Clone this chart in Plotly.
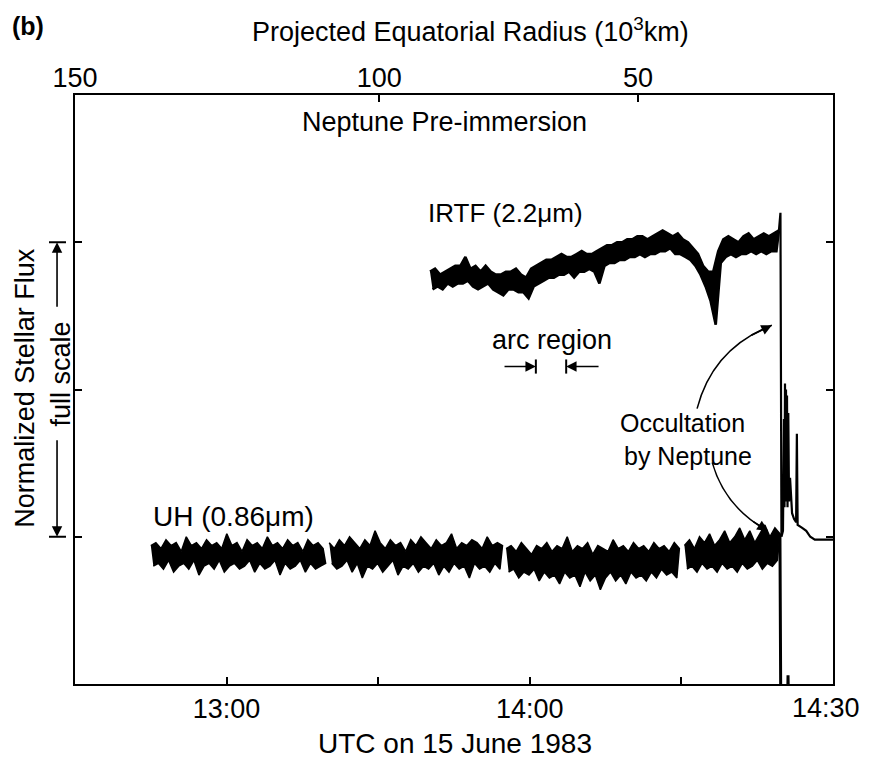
import numpy as np
import plotly.graph_objects as go

# ---------------- data (time = minutes after 12:00 UTC, 15 June 1983) ----------------
T_RANGE = [30, 180]
Y_RANGE = [-0.5, 1.5]
TIME_TICKS = [60, 120]
TIME_TICK_TEXT = ["13:00", "14:00"]
TIME_MINOR_TICKS = [90, 150]
LAST_TIME_LABEL = "14:30"
RADIUS_TICK_TIMES = [30, 90.2, 141.4]
RADIUS_TICK_TEXT = ["150", "100", "50"]
FLUX_TICKS = [0, 0.5, 1.0]

# UH (0.86 um) record, hundredths of full scale (alternating crest / trough samples)
UH_SEG_BOUNDS = [(45.0, 79.6), (80.3, 114.6), (115.3, 149.6), (150.6, 169.5)]
UH_SEG1 = [-3, -10, -2, -9, -4, -11, -1, -8, -3, -12,
           -2, -10, -5, -9, 0, -11, -3, -8, -2, -13,
           -4, -10, -1, -9, -3, -11, -2, -8, -4, -12,
           1, -10, -3, -9, -2, -11, -5, -10, -1, -8,
           -3, -12, -2, -9, -4, -11, 0, -10, -3, -8,
           -2, -13, -4, -9, -1, -11, -3, -10, -2, -8,
           -5, -12, -1, -9, -3, -11, -2, -10, -4, -9]
UH_SEG2 = [-2, -9, -4, -11, -1, -10, -3, -8, 0, -12,
           -2, -9, -4, -14, -1, -10, -3, -11, 2, -9,
           -2, -12, -4, -10, -1, -8, -3, -13, -2, -10,
           -5, -11, -1, -9, -3, -12, 0, -10, -2, -11,
           -4, -9, -1, -13, -3, -10, -2, -12, 1, -9,
           -4, -11, -2, -10, -3, -14, -1, -9, -2, -11,
           -4, -10, 0, -12, -3, -9, -2, -11, -3]
UH_SEG3 = [-4, -12, -3, -11, -5, -14, -2, -12, -4, -13,
           -6, -11, -3, -15, -4, -12, -2, -14, -5, -13,
           -3, -16, -4, -12, 0, -14, -5, -13, -3, -17,
           -4, -12, -2, -15, -6, -13, -3, -18, -4, -14,
           -5, -12, -1, -15, -4, -13, -3, -16, -5, -12,
           -2, -14, -4, -13, -3, -15, -5, -12, -2, -14,
           -4, -11, -3, -13, -5, -12, -2, -14, -4]
UH_SEG4 = [-3, -11, -1, -10, -4, -12, 0, -9, -2, -11,
           1, -10, -3, -12, -1, -9, 2, -11, -2, -10,
           0, -12, 3, -9, -1, -11, 2, -10, -2, -8,
           1, -11, 4, -9, 0, -10, 3, -8, 1]
UH_LOSS_T = [169.5, 169.7, 170.9, 171.1, 171.3]
UH_LOSS_V = [1, -70, -70, -47, -70]

# IRTF (2.2 um) record, hundredths of full scale (alternating crest / trough samples)
IRTF_BOUNDS = (100.25, 169.3)
IRTF_VALS = [90, 84, 91, 85, 89, 84, 90, 86, 91, 85, 92, 86, 92, 86, 95, 87,
             91, 85, 92, 84, 90, 85, 92, 86, 90, 84, 89, 83, 89, 82, 90, 84,
             90, 84, 91, 83, 89, 83, 88, 81, 91, 85, 92, 86, 93, 87, 94, 88,
             94, 88, 95, 89, 96, 89, 95, 90, 95, 88, 96, 90, 97, 90, 96, 91,
             96, 90, 97, 86, 98, 92, 99, 93, 99, 93, 100, 94, 100, 94, 101, 95,
             101, 95, 102, 96, 102, 95, 101, 96, 102, 96, 103, 97, 104, 97, 103, 98,
             102, 96, 103, 96, 101, 95, 100, 94, 98, 92, 96, 89, 92, 85, 90, 80,
             90, 72, 97, 93, 101, 95, 102, 96, 101, 95, 100, 96, 102, 96, 103, 97,
             101, 96, 102, 97, 103, 96, 102, 97, 103, 97, 104]
IRTF_POST_T = [169.3, 169.6, 169.8, 170.1, 170.3, 170.4, 170.5, 170.6, 170.7,
               170.8, 170.9, 171.0, 171.15, 171.3, 171.5, 171.9, 172.3, 172.7,
               172.85, 173.0, 173.9, 174.7, 175.5, 176.4, 177.4, 178.5, 180.0]
IRTF_POST_V = [104, 110, 0, 2, 40, 10, 52, 14, 50, 12, 48, 10, 42, 12, 20, 8, 6, 5,
               35, 4, 3, 2, 0, -1, -1, -1, -1]

# annotation anchors (data units)
ARC_EDGES = [121.2, 127.2]
ARC_TAILS = [114.7, 133.9]
ARC_Y = 0.578
OCC_UP = [(153.1, 0.435), (156.2, 0.64), (167.9, 0.718)]     # start, control, tip
OCC_DOWN = [(156.1, 0.252), (158.6, 0.10), (167.1, 0.020)]

FONT = "Liberation Sans, Arial, sans-serif"
BLACK = "black"
PAGE_PAD = 8  # default body margin of the written page

fig = go.Figure()


def add_line(x, y, width=2.2, axis="x"):
    fig.add_trace(go.Scatter(x=x, y=y, mode="lines", xaxis=axis,
                             line=dict(color=BLACK, width=width),
                             hoverinfo="skip", showlegend=False))


def add_band(t0, t1, vals, edge=1.5):
    """Noisy record: fill between crest samples and trough samples."""
    t = np.linspace(t0, t1, len(vals))
    v = np.array(vals) / 100.0
    xs = np.concatenate([t[0::2], t[1::2][::-1]])
    ys = np.concatenate([v[0::2], v[1::2][::-1]])
    fig.add_trace(go.Scatter(x=xs, y=ys, mode="lines", fill="toself",
                             fillcolor=BLACK, line=dict(color=BLACK, width=edge),
                             hoverinfo="skip", showlegend=False))


for (t0, t1), seg in zip(UH_SEG_BOUNDS, [UH_SEG1, UH_SEG2, UH_SEG3, UH_SEG4]):
    add_band(t0, t1, seg, edge=1.5)
add_line(UH_LOSS_T, np.array(UH_LOSS_V) / 100.0, width=3)

add_band(IRTF_BOUNDS[0], IRTF_BOUNDS[1], IRTF_VALS, edge=2.6)
add_line(IRTF_POST_T, np.array(IRTF_POST_V) / 100.0, width=2.2)

# carrier trace for the top (radius) axis
add_line(T_RANGE, [None, None], axis="x2")

ann = []
shapes = []


def text(t, x, y, size=27, xref="x", yref="y", xanchor="center", yanchor="middle",
         angle=0):
    ann.append(dict(text=t, x=x, y=y, xref=xref, yref=yref, showarrow=False,
                    xanchor=xanchor, yanchor=yanchor, textangle=angle,
                    font=dict(family=FONT, size=size, color=BLACK)))


text("<b>(b)</b>", -0.062, 1.117, size=25, xref="paper", yref="paper")
text("Projected Equatorial Radius (10<sup>3</sup>km)", 0.522, 1.111, size=27,
     xref="paper", yref="paper")
text("UTC on 15 June 1983", 0.501, -0.101, size=28, xref="paper", yref="paper")
text(LAST_TIME_LABEL, 178.6, -0.0407, size=27, yref="paper")
text("Normalized Stellar Flux", -0.0655, 0.507, size=27, xref="paper", angle=-90)
text("full scale", -0.0185, 0.554, size=27, xref="paper", angle=-90)
text("Neptune Pre-immersion", 103.2, 1.408)
text("IRTF (2.2\u03bcm)", 99.4, 1.10, size=26, xanchor="left")
text("UH (0.86\u03bcm)", 45.0, 0.068, size=28, xanchor="left")
text("arc region", 124.4, 0.667)
text("Occultation", 150.3, 0.333, size=25, yanchor="bottom")
text("by Neptune", 151.3, 0.327, size=25, yanchor="top")

# full-scale double arrow
for y, ay in [(1.0, 66), (0.0, -98)]:
    ann.append(dict(x=-0.0237, y=y, xref="paper", yref="y", ax=0, ay=ay,
                    text="", showarrow=True, arrowhead=2, arrowsize=1.3,
                    arrowwidth=1.6, arrowcolor=BLACK))
    shapes.append(dict(type="line", xref="paper", yref="y", x0=-0.0343, x1=-0.0119,
                       y0=y, y1=y, line=dict(color=BLACK, width=2)))

# arc region markers
for edge, tail in zip(ARC_EDGES, ARC_TAILS):
    ann.append(dict(x=edge, y=ARC_Y, xref="x", yref="y", ax=tail, ay=ARC_Y,
                    axref="x", ayref="y", text="", showarrow=True, arrowhead=2,
                    arrowsize=1.3, arrowwidth=1.6, arrowcolor=BLACK))
    shapes.append(dict(type="line", xref="x", yref="y", x0=edge, x1=edge,
                       y0=ARC_Y - 0.024, y1=ARC_Y + 0.024,
                       line=dict(color=BLACK, width=2)))

# curved occultation arrows
for (p0, c, p2) in [OCC_UP, OCC_DOWN]:
    shapes.append(dict(type="path", xref="x", yref="y",
                       path=f"M {p0[0]},{p0[1]} Q {c[0]},{c[1]} {p2[0]},{p2[1]}",
                       line=dict(color=BLACK, width=1.5)))
    s = 0.8
    bx = (1 - s) ** 2 * p0[0] + 2 * (1 - s) * s * c[0] + s ** 2 * p2[0]
    by = (1 - s) ** 2 * p0[1] + 2 * (1 - s) * s * c[1] + s ** 2 * p2[1]
    ann.append(dict(x=p2[0], y=p2[1], xref="x", yref="y", ax=bx, ay=by,
                    axref="x", ayref="y", text="", showarrow=True, arrowhead=2,
                    arrowsize=1.4, arrowwidth=1.5, arrowcolor=BLACK))

axis_common = dict(ticks="inside", ticklen=7, tickwidth=2, tickcolor=BLACK,
                   showgrid=False, zeroline=False,
                   tickfont=dict(family=FONT, size=27, color=BLACK))

fig.update_layout(
    width=873 - PAGE_PAD, height=761 - PAGE_PAD,
    margin=dict(l=75 - PAGE_PAD, r=40, t=95 - PAGE_PAD, b=77),
    paper_bgcolor="white", plot_bgcolor="white",
    showlegend=False,
    xaxis=dict(range=T_RANGE, tickvals=TIME_TICKS, ticktext=TIME_TICK_TEXT,
               showline=True, linewidth=2, linecolor=BLACK, mirror=True,
               ticklabelstandoff=0,
               minor=dict(tickvals=TIME_MINOR_TICKS, ticks="inside", ticklen=7,
                          tickwidth=2, tickcolor=BLACK, showgrid=False),
               **axis_common),
    xaxis2=dict(range=T_RANGE, overlaying="x", side="top",
                tickvals=RADIUS_TICK_TIMES, ticktext=RADIUS_TICK_TEXT,
                showline=False, ticklabelstandoff=2, **axis_common),
    yaxis=dict(range=Y_RANGE, tickvals=FLUX_TICKS, showticklabels=False,
               showline=True, linewidth=2, linecolor=BLACK, mirror="ticks",
               **axis_common),
    annotations=ann,
    shapes=shapes,
)

fig.write_html("out.html")
